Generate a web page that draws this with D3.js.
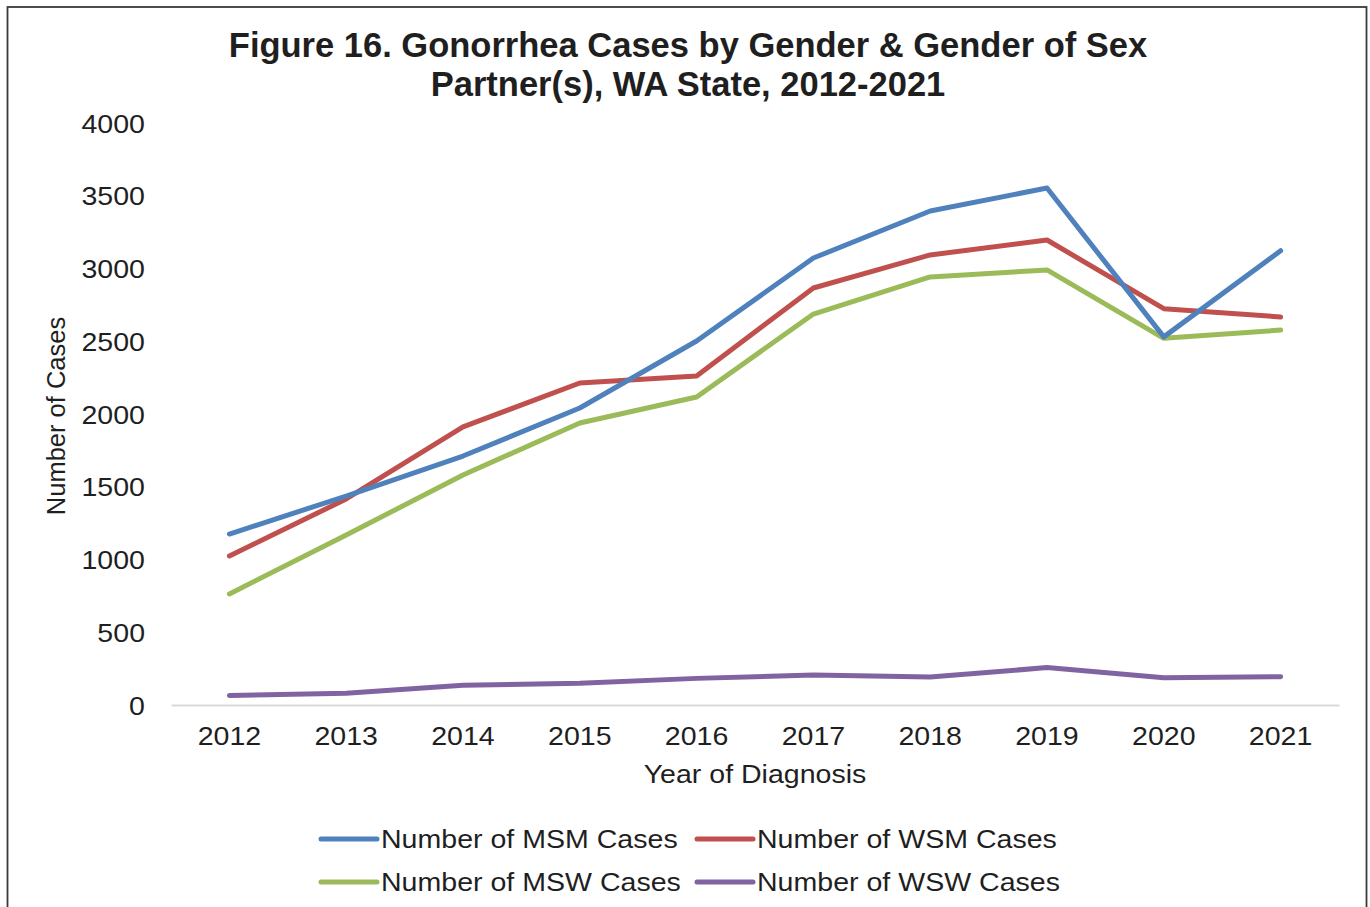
<!DOCTYPE html>
<meta charset="utf-8">
<style>
body {
  margin: 0;
  background: #fff;
}
svg {
  display: block;
  font-family: "Liberation Sans", Arial, sans-serif;
}
.axis--x .domain {
  stroke: #d9d9d9;
  stroke-width: 2px;
}
.axis--y .domain {
  display: none;
}
.axis text {
  fill: #1f1f1f;
  font-size: 25.5px;
}
.line {
  fill: none;
  stroke-width: 5px;
  stroke-linejoin: round;
  stroke-linecap: round;
}
</style>
<body>
<svg width="1370" height="907"></svg>
<script src="https://cdn.jsdelivr.net/npm/d3@7"></script>
<script>

// data
var years = [2012, 2013, 2014, 2015, 2016, 2017, 2018, 2019, 2020, 2021];
var msm = [1175, 1436, 1711, 2041, 2502, 3072, 3395, 3553, 2530, 3122];
var wsm = [1024, 1416, 1911, 2213, 2261, 2866, 3093, 3196, 2724, 2667];
var msw = [763, 1168, 1581, 1938, 2117, 2687, 2942, 2990, 2520, 2577];
var wsw = [66, 80, 135, 149, 183, 206, 192, 257, 188, 195];
var seriesNames = ["Number of MSM Cases", "Number of WSM Cases", "Number of MSW Cases", "Number of WSW Cases"];
var colors = ["#4f81bd", "#c0504d", "#9bbb59", "#8064a2"];
var yTicks = [0, 500, 1000, 1500, 2000, 2500, 3000, 3500, 4000];

var stretch = 1.12; // text in the figure is a bit wide

var svg = d3.select("svg");

// frame
svg.append("rect")
    .attr("x", 7.5)
    .attr("y", 7)
    .attr("width", 1359)
    .attr("height", 920)
    .attr("fill", "none")
    .attr("stroke", "#3a3a3a")
    .attr("stroke-width", 1.8);

var x = d3.scaleBand().domain(years).range([171, 1339]),
    y = d3.scaleLinear().domain([0, 4000]).range([705, 123]);

function cx(yr) { return x(yr) + x.bandwidth() / 2; }

// title
var title = svg.append("text")
    .attr("text-anchor", "middle")
    .attr("font-weight", "bold")
    .attr("font-size", "34.5px")
    .attr("fill", "#1f1f1f");
title.append("tspan").attr("x", 688).attr("y", 57)
    .text("Figure 16. Gonorrhea Cases by Gender & Gender of Sex");
title.append("tspan").attr("x", 688).attr("y", 96)
    .text("Partner(s), WA State, 2012-2021");

// axes
svg.append("g")
    .attr("class", "axis axis--x")
    .attr("transform", "translate(0,705)")
    .call(d3.axisBottom(x).tickSize(0).tickPadding(0).tickSizeOuter(0))
  .selectAll("text")
    .attr("y", 0)
    .attr("dy", 0)
    .attr("transform", "translate(0,40) scale(" + stretch + ",1)");

svg.append("g")
    .attr("class", "axis axis--y")
    .attr("transform", "translate(171,0)")
    .call(d3.axisLeft(y).tickValues(yTicks).tickSize(0).tickFormat(d3.format("d")))
  .selectAll("text")
    .attr("x", -26 / stretch)
    .attr("dy", "0.36em")
    .attr("transform", "scale(" + stretch + ",1)");

// axis titles
svg.append("text")
    .attr("transform", "translate(755,783) scale(" + stretch + ",1)")
    .attr("text-anchor", "middle")
    .attr("font-size", "25.5px")
    .attr("fill", "#1f1f1f")
    .text("Year of Diagnosis");

svg.append("text")
    .attr("transform", "translate(65,416) rotate(-90)")
    .attr("text-anchor", "middle")
    .attr("font-size", "25.5px")
    .attr("fill", "#1f1f1f")
    .text("Number of Cases");

// lines
var series = [msm, wsm, msw, wsw].map(function(vals, i) {
  return {
    name: seriesNames[i],
    color: colors[i],
    values: years.map(function(yr, j) { return {year: yr, value: vals[j]}; })
  };
});

var line = d3.line()
    .x(function(d) { return cx(d.year); })
    .y(function(d) { return y(d.value); });

// draw order so MSM ends up on top like the source
var order = [3, 2, 1, 0];
svg.append("g").selectAll("path")
    .data(order.map(function(i) { return series[i]; }))
    .enter().append("path")
      .attr("class", "line")
      .attr("stroke", function(d) { return d.color; })
      .attr("d", function(d) { return line(d.values); });

// legend, 2 x 2
var legendPos = [[321, 839], [697, 839], [321, 882], [697, 882]];
var legend = svg.append("g").selectAll("g")
    .data(series)
    .enter().append("g")
      .attr("transform", function(d, i) { return "translate(" + legendPos[i][0] + "," + legendPos[i][1] + ")"; });

legend.append("line")
    .attr("x1", 0)
    .attr("x2", 56)
    .attr("stroke", function(d) { return d.color; })
    .attr("stroke-width", 5)
    .attr("stroke-linecap", "round");

legend.append("text")
    .attr("transform", "translate(60,0) scale(" + stretch + ",1)")
    .attr("dy", "0.36em")
    .attr("font-size", "25.5px")
    .attr("fill", "#1f1f1f")
    .text(function(d) { return d.name; });

</script>
</body>
